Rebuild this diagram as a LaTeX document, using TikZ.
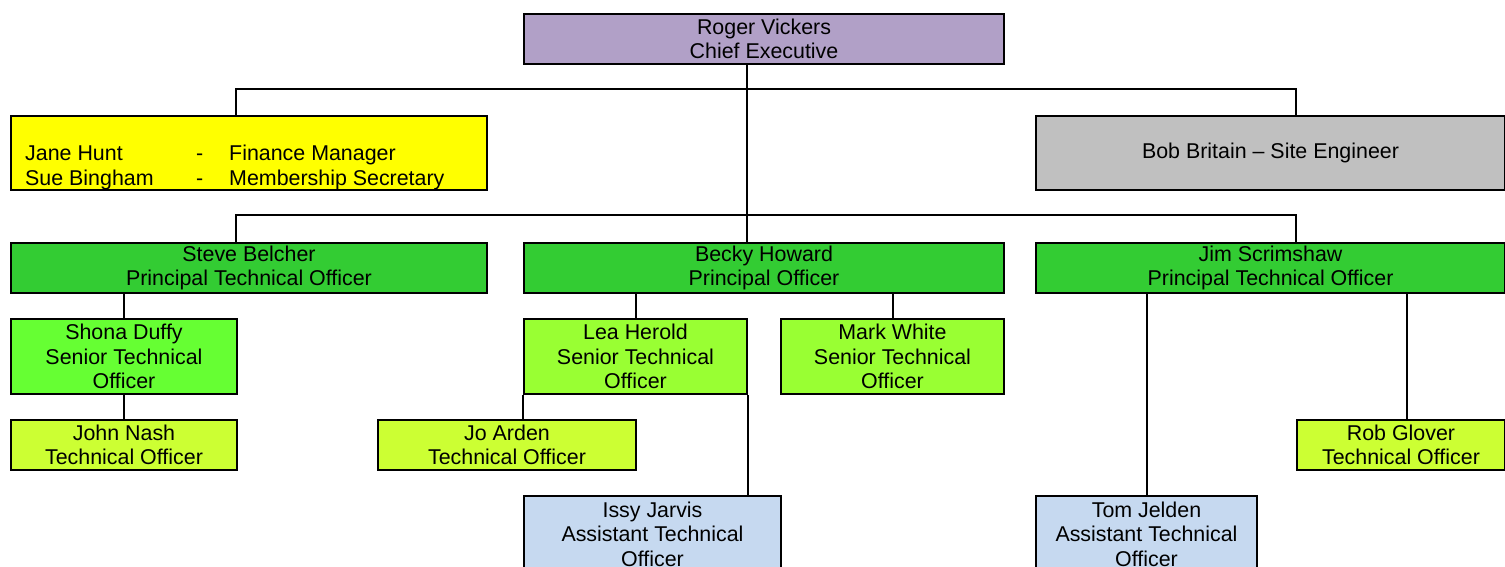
\documentclass[tikz,border=0pt]{standalone}
\usepackage{fontspec}
\setmainfont{Liberation Sans}
\newcommand{\orgfs}{\fontsize{21.4}{24.5}\selectfont}
\definecolor{cpurple}{HTML}{B1A0C7}
\definecolor{cyellow}{HTML}{FFFF00}
\definecolor{cgray}{HTML}{C0C0C0}
\definecolor{cgreenA}{HTML}{33CC33}
\definecolor{cgreenB}{HTML}{66FF33}
\definecolor{cgreenC}{HTML}{99FF33}
\definecolor{cgreenD}{HTML}{CCFF33}
\definecolor{cblue}{HTML}{C6D9F0}
\tikzset{
  box/.style={draw, line width=2pt, inner sep=0pt, align=center, anchor=north west, font=\orgfs},
  plain/.style={inner sep=0pt, anchor=base west, font=\orgfs},
  conn/.style={line width=2pt}
}
\begin{document}
\begin{tikzpicture}[x=1pt,y=1pt]
\useasboundingbox (0,0) rectangle (1505,-566);
\clip (0,0) rectangle (1505,-566);
% boxes
\node[box, fill=cpurple, minimum width=480, minimum height=50] (roger) at (523,-13) {Roger Vickers\\Chief Executive};
\node[box, fill=cyellow, minimum width=476, minimum height=74] (jane) at (10,-115) {};
\node[plain] (jn) at (25,-160) {Jane Hunt};
\node[plain] (jd) at (196,-160) {-};
\node[plain] (jr) at (229,-160) {Finance Manager};
\node[plain] (sn) at (25,-185) {Sue Bingham};
\node[plain] (sd) at (196,-185) {-};
\node[plain] (sr) at (229,-185) {Membership Secretary};
\node[box, fill=cgray, minimum width=469, minimum height=74] (bob) at (1035,-115) {\raisebox{-2pt}{Bob Britain – Site Engineer}};
\node[box, fill=cgreenA, minimum width=476, minimum height=50] (steve) at (10,-242) {Steve Belcher\\Principal Technical Officer};
\node[box, fill=cgreenA, minimum width=480, minimum height=50] (becky) at (523,-242) {Becky Howard\\Principal Officer};
\node[box, fill=cgreenA, minimum width=469, minimum height=50] (jim) at (1035,-242) {Jim Scrimshaw\\Principal Technical Officer};
\node[box, fill=cgreenB, minimum width=226, minimum height=75] (shona) at (10,-318) {Shona Duffy\\Senior Technical\\Officer};
\node[box, fill=cgreenC, minimum width=223, minimum height=75] (lea) at (523,-318) {Lea Herold\\Senior Technical\\Officer};
\node[box, fill=cgreenC, minimum width=223, minimum height=75] (mark) at (780,-318) {Mark White\\Senior Technical\\Officer};
\node[box, fill=cgreenD, minimum width=226, minimum height=50] (john) at (10,-419) {John Nash\\Technical Officer};
\node[box, fill=cgreenD, minimum width=258, minimum height=50] (jo) at (377,-419) {Jo Arden\\Technical Officer};
\node[box, fill=cgreenD, minimum width=208, minimum height=50] (rob) at (1296,-419) {Rob Glover\\Technical Officer};
\node[box, fill=cblue, minimum width=257, minimum height=76] (issy) at (523,-495) {Issy Jarvis\\Assistant Technical\\Officer};
\node[box, fill=cblue, minimum width=221, minimum height=76] (tom) at (1035,-495) {Tom Jelden\\Assistant Technical\\Officer};
% junction coordinates
\coordinate (h1) at (747,-89);
\coordinate (h2) at (747,-215);
\coordinate (xl) at (236,0);
\coordinate (xr) at (1296,0);
\coordinate (xrob) at (1407,0);
% connectors
\draw[conn] (roger.south -| h1) -- (becky.north -| h1);
\draw[conn] (jane.north -| xl) |- (h1) -| (bob.north -| xr);
\draw[conn] (steve.north -| xl) |- (h2) -| (jim.north -| xr);
\draw[conn] (shona.north |- steve.south) -- (shona.north);
\draw[conn] (shona.south) -- (john.north);
\draw[conn] (lea.north |- becky.south) -- (lea.north);
\draw[conn] (mark.north |- becky.south) -- (mark.north);
\draw[conn] (lea.south west) -- (lea.south west |- jo.north);
\draw[conn] (lea.south east) -- (lea.south east |- issy.north);
\draw[conn] (tom.north |- jim.south) -- (tom.north);
\draw[conn] (jim.south -| xrob) -- (rob.north -| xrob);
\end{tikzpicture}
\end{document}
